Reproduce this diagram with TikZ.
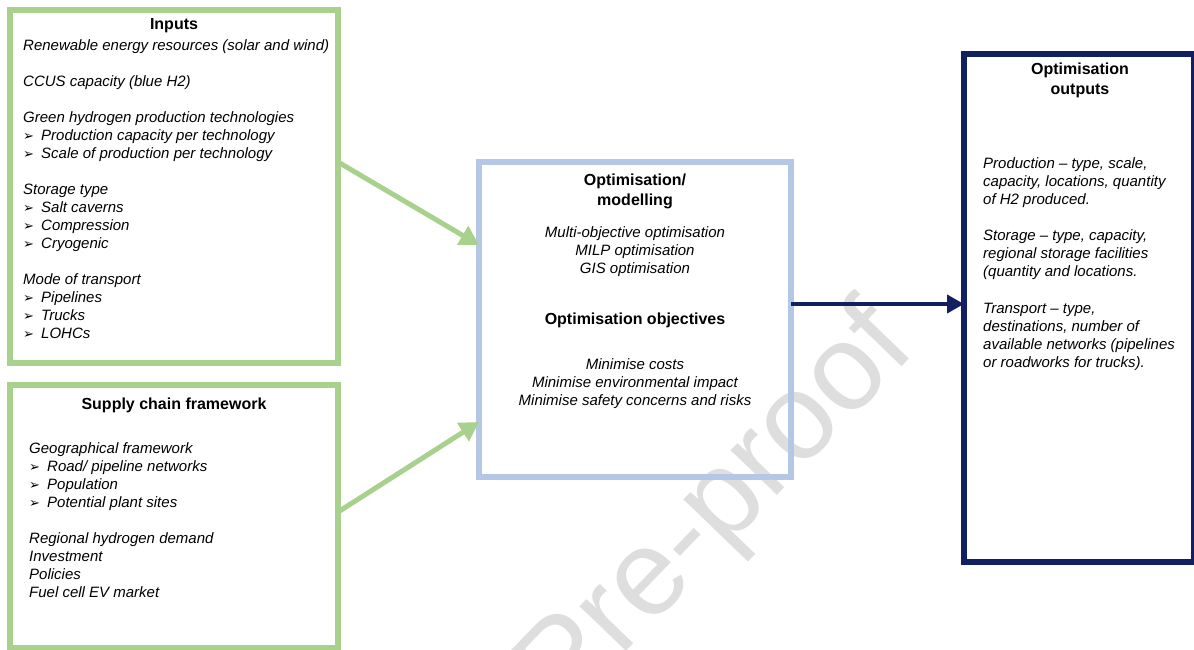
\documentclass[tikz,border=0pt]{standalone}
\usepackage{fontspec}
\setmainfont{Liberation Sans}
\newfontfamily\dejavu{DejaVu Sans}
\usetikzlibrary{arrows.meta,calc}
\definecolor{grn}{RGB}{169,209,142}
\definecolor{lblue}{RGB}{180,199,231}
\definecolor{navy}{RGB}{16,32,96}
\definecolor{wm}{RGB}{222,222,222}
\begin{document}
\begin{tikzpicture}[x=1pt,y=-1pt,
 box/.style={draw=#1, line width=6pt, inner sep=0pt, outer sep=0pt},
 tx/.style={anchor=base west, inner sep=0pt, font=\itshape\fontsize{15}{18}\selectfont},
 txc/.style={anchor=base, inner sep=0pt, font=\itshape\fontsize{15}{18}\selectfont},
 hd/.style={anchor=base, inner sep=0pt, font=\bfseries\fontsize{16}{19}\selectfont},
 bul/.style={anchor=base west, inner sep=0pt, font=\dejavu\fontsize{13}{15}\selectfont},
 garrow/.style={draw=grn, line width=5pt, -{Triangle[length=19pt,width=21pt]}},
 narrow/.style={draw=navy, line width=4pt, -{Triangle[length=17pt,width=18pt]}},
]
\useasboundingbox (0,0) rectangle (1194,650);
\clip (0,0) rectangle (1194,650);
% watermark
\node[rotate=46, anchor=base east, inner sep=0pt, text=wm, font=\fontsize{122}{122}\selectfont] (wmark) at (918,350) {Journal Pre-proof};
% boxes
\node[box=grn, minimum width=328pt, minimum height=353pt] (inputs) at (174,186.5) {};
\node[box=grn, minimum width=328pt, minimum height=263pt] (supply) at (174,516.5) {};
\node[box=lblue, minimum width=312pt, minimum height=315pt] (model) at (635,319.5) {};
\node[box=navy, minimum width=230pt, minimum height=508pt] (outputs) at (1079,308) {};
% arrows
\draw[garrow] ([yshift=24.5pt]inputs.east) -- ([yshift=74.5pt]model.west);
\draw[garrow] ([yshift=4.5pt]supply.east) -- ([yshift=-102.5pt]model.west);
\draw[narrow] ([yshift=15.5pt]model.east) -- ([yshift=4pt]outputs.west);
% inputs text
\node[hd] (inh) at (174,29.5) {Inputs};
\node[tx] (in1) at (23,50.5) {Renewable energy resources (solar and wind)};
\node[tx] (in2) at (23,86.5) {CCUS capacity (blue H2)};
\node[tx] (in3) at (23,122.5) {Green hydrogen production technologies};
\node[bul] (inb4) at (23,140.5) {➢};
\node[tx] (in4) at (41,140.5) {Production capacity per technology};
\node[bul] (inb5) at (23,158.5) {➢};
\node[tx] (in5) at (41,158.5) {Scale of production per technology};
\node[tx] (in6) at (23,194.5) {Storage type};
\node[bul] (inb7) at (23,212.5) {➢};
\node[tx] (in7) at (41,212.5) {Salt caverns};
\node[bul] (inb8) at (23,230.5) {➢};
\node[tx] (in8) at (41,230.5) {Compression};
\node[bul] (inb9) at (23,248.5) {➢};
\node[tx] (in9) at (41,248.5) {Cryogenic};
\node[tx] (in10) at (23,284.5) {Mode of transport};
\node[bul] (inb11) at (23,302.5) {➢};
\node[tx] (in11) at (41,302.5) {Pipelines};
\node[bul] (inb12) at (23,320.5) {➢};
\node[tx] (in12) at (41,320.5) {Trucks};
\node[bul] (inb13) at (23,338.5) {➢};
\node[tx] (in13) at (41,338.5) {LOHCs};
% supply text
\node[hd] (suh) at (174,409.5) {Supply chain framework};
\node[tx] (su1) at (29,453.5) {Geographical framework};
\node[bul] (sub2) at (29,471.5) {➢};
\node[tx] (su2) at (47,471.5) {Road/ pipeline networks};
\node[bul] (sub3) at (29,489.5) {➢};
\node[tx] (su3) at (47,489.5) {Population};
\node[bul] (sub4) at (29,507.5) {➢};
\node[tx] (su4) at (47,507.5) {Potential plant sites};
\node[tx] (su5) at (29,543.5) {Regional hydrogen demand};
\node[tx] (su6) at (29,561.5) {Investment};
\node[tx] (su7) at (29,579.5) {Policies};
\node[tx] (su8) at (29,597.5) {Fuel cell EV market};
% model text
\node[hd] (moh1) at (635,185.5) {Optimisation/};
\node[hd] (moh2) at (635,205.5) {modelling};
\node[txc] (mo1) at (635,237) {Multi-objective optimisation};
\node[txc] (mo2) at (635,255) {MILP optimisation};
\node[txc] (mo3) at (635,273) {GIS optimisation};
\node[hd] (moh3) at (635,324.5) {Optimisation objectives};
\node[txc] (mo4) at (635,369.5) {Minimise costs};
\node[txc] (mo5) at (635,387.5) {Minimise environmental impact};
\node[txc] (mo6) at (635,405.5) {Minimise safety concerns and risks};
% outputs text
\node[hd] (ouh1) at (1080,74.5) {Optimisation};
\node[hd] (ouh2) at (1080,94.5) {outputs};
\node[tx] (ou1) at (983,168.5) {Production – type, scale,};
\node[tx] (ou2) at (983,186.5) {capacity, locations, quantity};
\node[tx] (ou3) at (983,204.5) {of H2 produced.};
\node[tx] (ou4) at (983,240.5) {Storage – type, capacity,};
\node[tx] (ou5) at (983,258.5) {regional storage facilities};
\node[tx] (ou6) at (983,276.5) {(quantity and locations.};
\node[tx] (ou7) at (983,313.5) {Transport – type,};
\node[tx] (ou8) at (983,331.5) {destinations, number of};
\node[tx] (ou9) at (983,349.5) {available networks (pipelines};
\node[tx] (ou10) at (983,367.5) {or roadworks for trucks).};
\end{tikzpicture}
\end{document}
